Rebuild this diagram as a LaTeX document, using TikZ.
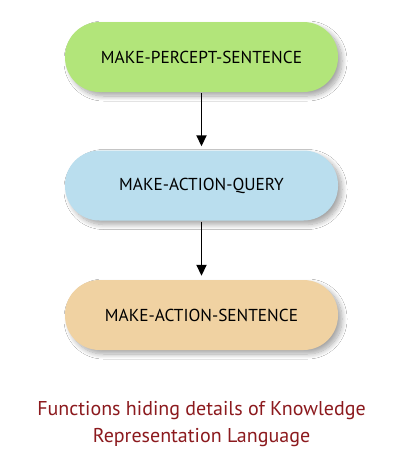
\documentclass[tikz,border=0pt]{standalone}
\usepackage{fontspec}
\setmainfont{PT Sans}
\usetikzlibrary{shadows.blur,arrows.meta}
\definecolor{boxgreen}{RGB}{178,229,122}
\definecolor{boxblue}{RGB}{186,222,238}
\definecolor{boxorange}{RGB}{240,210,162}
\definecolor{captionred}{RGB}{140,26,30}
\tikzset{
  pill/.style={rounded corners=34.5pt, minimum width=273pt, minimum height=70pt,
    inner sep=0pt, font=\fontsize{17.3}{20}\selectfont, text=black,
    blur shadow={shadow xshift=4pt, shadow yshift=-4pt, shadow blur steps=10, shadow blur radius=5pt, shadow opacity=35}},
  flow/.style={-{Triangle[length=11pt,width=10pt]}, line width=1.8pt, black}
}
\begin{document}
\begin{tikzpicture}[x=1pt,y=-1pt]
\useasboundingbox[fill=white] (0,0) rectangle (404,466);
\node[pill, fill=boxgreen] (a) at (201.5,57) {MAKE-PERCEPT-SENTENCE};
\node[pill, fill=boxblue] (b) at (201.5,185.5) {MAKE-ACTION-QUERY};
\node[pill, fill=boxorange] (c) at (201.5,315) {MAKE-ACTION-SENTENCE};
\draw[flow] ([yshift=-1pt]a.south) -- ([yshift=4pt]b.north);
\draw[flow] ([yshift=-1pt]b.south) -- ([yshift=4pt]c.north);
\node[text=captionred, font=\fontsize{20}{27}\selectfont, align=center] (cap) at (201.5,424) {Functions hiding details of Knowledge\\Representation Language};
\end{tikzpicture}
\end{document}
